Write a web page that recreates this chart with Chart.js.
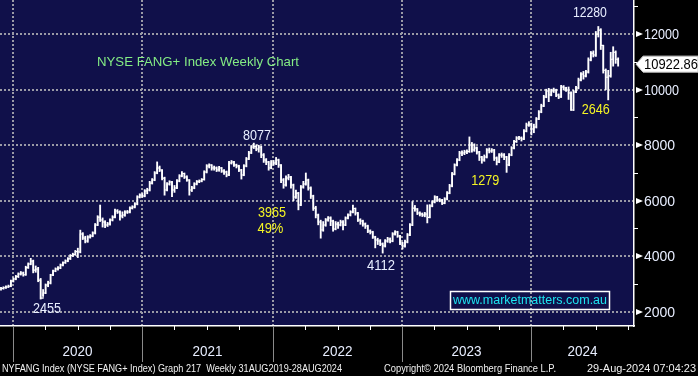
<!DOCTYPE html>
<html>
<head>
<meta charset="utf-8">
<script src="https://cdn.jsdelivr.net/npm/chart.js@4.4.1/dist/chart.umd.min.js"></script>
<style>
  html, body { margin: 0; padding: 0; background: #000; }
  canvas { display: block; }
</style>
</head>
<body>
<canvas id="fangChart" width="698" height="376"></canvas>
<script>
// NYFANG weekly bars, week 0 = w/e 22 Nov 2019 ... week 249 = w/e 30 Aug 2024
const closes = [
  2840, 2865, 2890, 2920, 3105, 3180, 3270, 3360, 3395, 3330,
  3590, 3720, 3830, 3500, 3540, 3140, 2490, 2675, 2960, 3035,
  3325, 3465, 3540, 3575, 3685, 3765, 3830, 3910, 4020, 4060,
  4165, 4150, 4800, 4655, 4550, 4690, 4730, 4835, 5125, 5410,
  5305, 5235, 5125, 5160, 5305, 5410, 5630, 5595, 5450, 5485,
  5595, 5595, 5735, 5775, 5880, 6135, 6205, 6170, 6350, 6385,
  6635, 6745, 7000, 7180, 7105, 6815, 6385, 6600, 6675, 6385,
  6460, 6710, 6890, 6980, 6855, 6745, 6385, 6460, 6600, 6685,
  6710, 6765, 7035, 7250, 7285, 7180, 7180, 7105, 7180, 7070,
  7035, 6925, 7360, 7395, 7285, 7250, 7105, 6925, 7250, 7505,
  7720, 7935, 7955, 7865, 7935, 7650, 7470, 7395, 7180, 7360,
  7360, 7470, 7285, 6745, 6565, 6820, 6855, 6565, 6135, 6275,
  5845, 6495, 6600, 6745, 6460, 6170, 5735, 5485, 5235, 4945,
  5125, 5305, 5375, 5270, 4980, 5160, 5125, 5235, 5125, 5375,
  5485, 5595, 5720, 5555, 5305, 5270, 5160, 5090, 4910, 4875,
  4690, 4585, 4550, 4440, 4370, 4550, 4620, 4550, 4800, 4875,
  4730, 4475, 4370, 4510, 4765, 5125, 5735, 5700, 5555, 5520,
  5485, 5520, 5400, 5810, 5955, 6135, 6025, 6025, 5915, 6060,
  6275, 6530, 6960, 7285, 7470, 7720, 7720, 7755, 7775, 8010,
  7830, 7900, 7755, 7575, 7470, 7575, 7830, 7790, 7830, 7540,
  7395, 7650, 7650, 7575, 7285, 7650, 7900, 8130, 8260, 8260,
  8225, 8510, 8730, 8765, 8585, 8655, 8945, 9195, 9415, 9740,
  9955, 9810, 9955, 9990, 9810, 9740, 10100, 10060, 9990, 9880,
  9270, 9920, 10060, 10350, 10565, 10495, 10640, 11070, 11320, 11250,
  12000, 12150, 11600, 10700, 10450, 10500, 11100, 11350, 11100, 10922.86
];
const highs = [
  2880, 2900, 2930, 2960, 3140, 3220, 3310, 3400, 3450, 3430,
  3640, 3760, 3925, 3860, 3650, 3600, 3200, 2800, 3000, 3100,
  3350, 3500, 3580, 3630, 3720, 3800, 3870, 3950, 4060, 4110,
  4210, 4290, 4940, 4850, 4720, 4740, 4780, 4880, 5180, 5460,
  5845, 5380, 5280, 5220, 5350, 5460, 5700, 5680, 5640, 5600,
  5640, 5650, 5780, 5820, 5930, 6180, 6250, 6260, 6400, 6450,
  6700, 6800, 7050, 7400, 7250, 7120, 6850, 6650, 6720, 6700,
  6550, 6760, 6940, 7050, 7000, 6900, 6760, 6520, 6650, 6730,
  6750, 6800, 7080, 7300, 7330, 7300, 7250, 7220, 7240, 7200,
  7120, 7070, 7420, 7450, 7420, 7320, 7280, 7130, 7300, 7560,
  7780, 7990, 8077, 8010, 8000, 7960, 7700, 7520, 7420, 7450,
  7450, 7560, 7500, 7300, 6800, 6900, 6950, 6880, 6600, 6380,
  6300, 6550, 6700, 7000, 6780, 6500, 6200, 5800, 5520, 5300,
  5250, 5360, 5430, 5420, 5300, 5250, 5230, 5300, 5280, 5420,
  5530, 5640, 5840, 5740, 5580, 5350, 5300, 5200, 5120, 4950,
  4900, 4720, 4650, 4600, 4480, 4600, 4680, 4660, 4850, 4920,
  4900, 4750, 4500, 4580, 4820, 5180, 5970, 5830, 5720, 5600,
  5560, 5580, 5850, 5860, 6000, 6180, 6160, 6080, 6050, 6110,
  6330, 6590, 7020, 7330, 7520, 7780, 7800, 7820, 7830, 8300,
  8100, 8050, 7940, 7780, 7600, 7650, 7880, 7900, 7880, 7850,
  7580, 7700, 7720, 7700, 7600, 7700, 7950, 8180, 8310, 8320,
  8300, 8560, 8800, 8850, 8800, 8760, 9000, 9250, 9480, 9800,
  10020, 10050, 10020, 10060, 10020, 9850, 10160, 10150, 10090, 10100,
  9920, 9980, 10120, 10420, 10620, 10660, 10700, 11150, 11380, 11400,
  12100, 12280, 12200, 11600, 10750, 10700, 11350, 11550, 11400, 11150
];
const lows = [
  2780, 2810, 2840, 2870, 2900, 3070, 3150, 3230, 3320, 3280,
  3310, 3560, 3690, 3400, 3420, 3080, 2455, 2560, 2650, 2900,
  3000, 3300, 3440, 3500, 3550, 3650, 3740, 3800, 3880, 3990,
  4030, 3950, 4120, 4600, 4480, 4500, 4650, 4700, 4800, 5100,
  5250, 5050, 5030, 5070, 5120, 5270, 5380, 5540, 5300, 5380,
  5440, 5540, 5560, 5700, 5740, 5850, 6100, 6120, 6140, 6250,
  6350, 6600, 6720, 6970, 7050, 6750, 6200, 6350, 6560, 6150,
  6300, 6430, 6680, 6860, 6800, 6700, 6200, 6330, 6430, 6570,
  6650, 6680, 6740, 7000, 7180, 7100, 7100, 7050, 7060, 7020,
  6950, 6860, 6900, 7320, 7240, 7180, 7050, 6780, 6900, 7220,
  7480, 7700, 7880, 7800, 7750, 7550, 7380, 7300, 7100, 7150,
  7280, 7300, 7200, 6650, 6450, 6520, 6750, 6450, 6000, 6080,
  5670, 5820, 6450, 6560, 6380, 6080, 5650, 5380, 5130, 4650,
  4900, 5080, 5260, 5100, 4900, 4950, 5000, 5090, 4950, 5100,
  5340, 5450, 5560, 5480, 5250, 5150, 5080, 5000, 4850, 4800,
  4640, 4300, 4420, 4380, 4112, 4330, 4500, 4480, 4520, 4760,
  4680, 4420, 4260, 4330, 4480, 4740, 5100, 5620, 5500, 5450,
  5430, 5420, 5200, 5380, 5780, 5920, 5980, 5960, 5860, 5890,
  6030, 6250, 6500, 6930, 7250, 7440, 7620, 7660, 7700, 7740,
  7750, 7780, 7680, 7450, 7350, 7420, 7540, 7720, 7740, 7450,
  7290, 7370, 7560, 7480, 7021, 7260, 7620, 7870, 8100, 8200,
  8150, 8200, 8480, 8680, 8370, 8450, 8620, 8920, 9170, 9390,
  9710, 9570, 9780, 9900, 9750, 9680, 9720, 9990, 9940, 9650,
  9250, 9250, 9890, 10030, 10320, 10380, 10460, 10600, 11040, 11180,
  11200, 11900, 11450, 10600, 10000, 9634, 10450, 10850, 10950, 10850
];

const yearLabels = ['2020', '2021', '2022', '2023', '2024'];
const yearStarts = [4.8, 56.9, 109.7, 161.8, 213.8]; // week position of 1 Jan
const priceTicks = [2000, 4000, 6000, 8000, 10000, 12000];
const lastPrice = 10922.86;

const WHITE_TXT = '#e8eeff';
const YELLOW_TXT = '#f4f424';
const notes = [
  { text: '2455', week: 18.6, value: 2100, color: WHITE_TXT, maxW: 28 },
  { text: '8077', week: 103.3, value: 8314, color: WHITE_TXT, maxW: 28 },
  { text: '3965', week: 109.3, value: 5557, color: YELLOW_TXT, maxW: 28 },
  { text: '49%', week: 108.7, value: 4963, color: YELLOW_TXT, maxW: 26 },
  { text: '4112', week: 153.3, value: 3647, color: WHITE_TXT, maxW: 28 },
  { text: '1279', week: 195.4, value: 6710, color: YELLOW_TXT, maxW: 28 },
  { text: '12280', week: 237.6, value: 12765, color: WHITE_TXT, maxW: 34 },
  { text: '2646', week: 240.0, value: 9251, color: YELLOW_TXT, maxW: 28 }
];

const FONT = 'Arial, "Liberation Sans", sans-serif';

const bloombergLook = {
  id: 'bloombergLook',
  beforeDraw(chart) {
    const { ctx, chartArea: a } = chart;
    ctx.save();
    ctx.fillStyle = '#000';
    ctx.fillRect(0, 0, chart.width, chart.height);
    ctx.fillStyle = '#10104a';
    ctx.fillRect(a.left, a.top, a.right - a.left, a.bottom - a.top);
    ctx.restore();
  },
  afterDraw(chart) {
    const { ctx, chartArea: a } = chart;
    const xs = chart.scales.x, ys = chart.scales.y;
    ctx.save();

    // bottom band: year separators, quarter ticks, year names
    ctx.textAlign = 'center';
    ctx.textBaseline = 'middle';
    yearStarts.forEach((w, i) => {
      const px = Math.round(xs.getPixelForValue(w)) + 0.5;
      ctx.strokeStyle = '#8a8a8a';
      ctx.lineWidth = 1;
      ctx.beginPath();
      ctx.moveTo(px, a.bottom + 1);
      ctx.lineTo(px, a.bottom + 36);
      ctx.stroke();
      ctx.strokeStyle = '#fff';
      for (let q = 1; q < 4; q++) {
        const qp = Math.round(xs.getPixelForValue(w + q * 13.04)) + 0.5;
        if (qp >= a.right - 2) continue;
        ctx.beginPath();
        ctx.moveTo(qp, a.bottom);
        ctx.lineTo(qp, a.bottom + 4);
        ctx.stroke();
      }
      const end = i + 1 < yearStarts.length ? xs.getPixelForValue(yearStarts[i + 1]) : a.right;
      const mid = (xs.getPixelForValue(w) + end) / 2;
      ctx.fillStyle = WHITE_TXT;
      ctx.font = '15px ' + FONT;
      ctx.fillText(yearLabels[i], mid, a.bottom + 26, 30);
    });

    // footer
    ctx.font = '11px ' + FONT;
    ctx.fillStyle = '#f0f0f0';
    ctx.textAlign = 'left';
    ctx.fillText('NYFANG Index (NYSE FANG+ Index) Graph 217  Weekly 31AUG2019-28AUG2024', 2, 369, 340);
    ctx.fillText('Copyright\u00a9 2024 Bloomberg Finance L.P.', 384, 369, 172);
    ctx.fillText('29-Aug-2024 07:04:23', 587, 369, 109);

    // right axis: arrows, labels, minor ticks
    ctx.font = '14px ' + FONT;
    priceTicks.forEach(v => {
      const py = Math.round(ys.getPixelForValue(v));
      ctx.fillStyle = '#fff';
      ctx.beginPath();
      ctx.moveTo(a.right + 2, py - 3);
      ctx.lineTo(a.right + 9, py);
      ctx.lineTo(a.right + 2, py + 3);
      ctx.closePath();
      ctx.fill();
      ctx.fillStyle = WHITE_TXT;
      ctx.fillText(String(v), a.right + 10, py + 1, 35);
    });
    ctx.strokeStyle = '#fff';
    ctx.lineWidth = 1;
    for (let v = 3000; v <= 13000; v += 2000) {
      const py = Math.round(ys.getPixelForValue(v)) + 0.5;
      ctx.beginPath();
      ctx.moveTo(a.right, py);
      ctx.lineTo(a.right + 4, py);
      ctx.stroke();
    }

    // last price tag
    const ly = ys.getPixelForValue(lastPrice);
    ctx.fillStyle = '#fff';
    ctx.strokeStyle = '#c8c8c8';
    ctx.beginPath();
    ctx.moveTo(a.right + 2, ly);
    ctx.lineTo(a.right + 9, ly - 8);
    ctx.lineTo(chart.width, ly - 8);
    ctx.lineTo(chart.width, ly + 8);
    ctx.lineTo(a.right + 9, ly + 8);
    ctx.closePath();
    ctx.fill();
    ctx.stroke();
    ctx.fillStyle = '#000';
    ctx.fillText(lastPrice.toFixed(2), a.right + 10, ly + 1, 54);

    // annotations
    ctx.textAlign = 'center';
    ctx.font = '14px ' + FONT;
    notes.forEach(n => {
      ctx.fillStyle = n.color;
      ctx.fillText(n.text, xs.getPixelForValue(n.week), ys.getPixelForValue(n.value), n.maxW);
    });

    // title
    ctx.textAlign = 'left';
    ctx.font = '13.5px ' + FONT;
    ctx.fillStyle = '#84ec84';
    ctx.fillText('NYSE FANG+ Index Weekly Chart', a.left + 97, a.top + 62, 202);

    // url box
    ctx.strokeStyle = '#fff';
    ctx.lineWidth = 1.5;
    ctx.strokeRect(a.left + 450.5, a.top + 291.5, 159, 18);
    ctx.font = '12.5px ' + FONT;
    ctx.fillStyle = '#1ee4f0';
    ctx.fillText('www.marketmatters.com.au', a.left + 453, a.top + 301, 154);

    ctx.restore();
  }
};

const barData = closes.map((c, i) => ({ x: i, y: [lows[i], highs[i]] }));
const closeData = closes.map((c, i) => ({ x: i, y: c }));

new Chart(document.getElementById('fangChart'), {
  type: 'bar',
  data: {
    datasets: [
      {
        type: 'line',
        data: closeData,
        borderColor: '#ffffff',
        borderWidth: 1.1,
        stepped: true,
        pointRadius: 0,
        fill: false
      },
      {
        type: 'bar',
        data: barData,
        backgroundColor: '#ffffff',
        borderWidth: 0,
        barThickness: 1.2,
        grouped: false
      }
    ]
  },
  options: {
    responsive: false,
    animation: false,
    devicePixelRatio: 1,
    layout: { padding: 0 },
    plugins: { legend: { display: false }, tooltip: { enabled: false } },
    scales: {
      x: {
        type: 'linear',
        position: 'bottom',
        min: -0.4,
        max: 255.4,
        offset: false,
        afterBuildTicks: s => { s.ticks = yearStarts.map(v => ({ value: v })); },
        afterFit: s => { s.height = 50; },
        ticks: { display: false },
        grid: { color: '#9a9aa6', lineWidth: 2, drawTicks: false, offset: false },
        border: { display: true, color: '#ffffff', width: 1.5, dash: [2, 2] }
      },
      y: {
        type: 'linear',
        position: 'right',
        min: 1485,
        max: 13234,
        afterBuildTicks: s => { s.ticks = priceTicks.map(v => ({ value: v })); },
        afterFit: s => { s.width = 64; },
        ticks: { display: false },
        grid: { color: '#9a9aa6', lineWidth: 2, drawTicks: false },
        border: { display: true, color: '#ffffff', width: 1.5, dash: [2, 2] }
      }
    }
  },
  plugins: [bloombergLook]
});
</script>
</body>
</html>
